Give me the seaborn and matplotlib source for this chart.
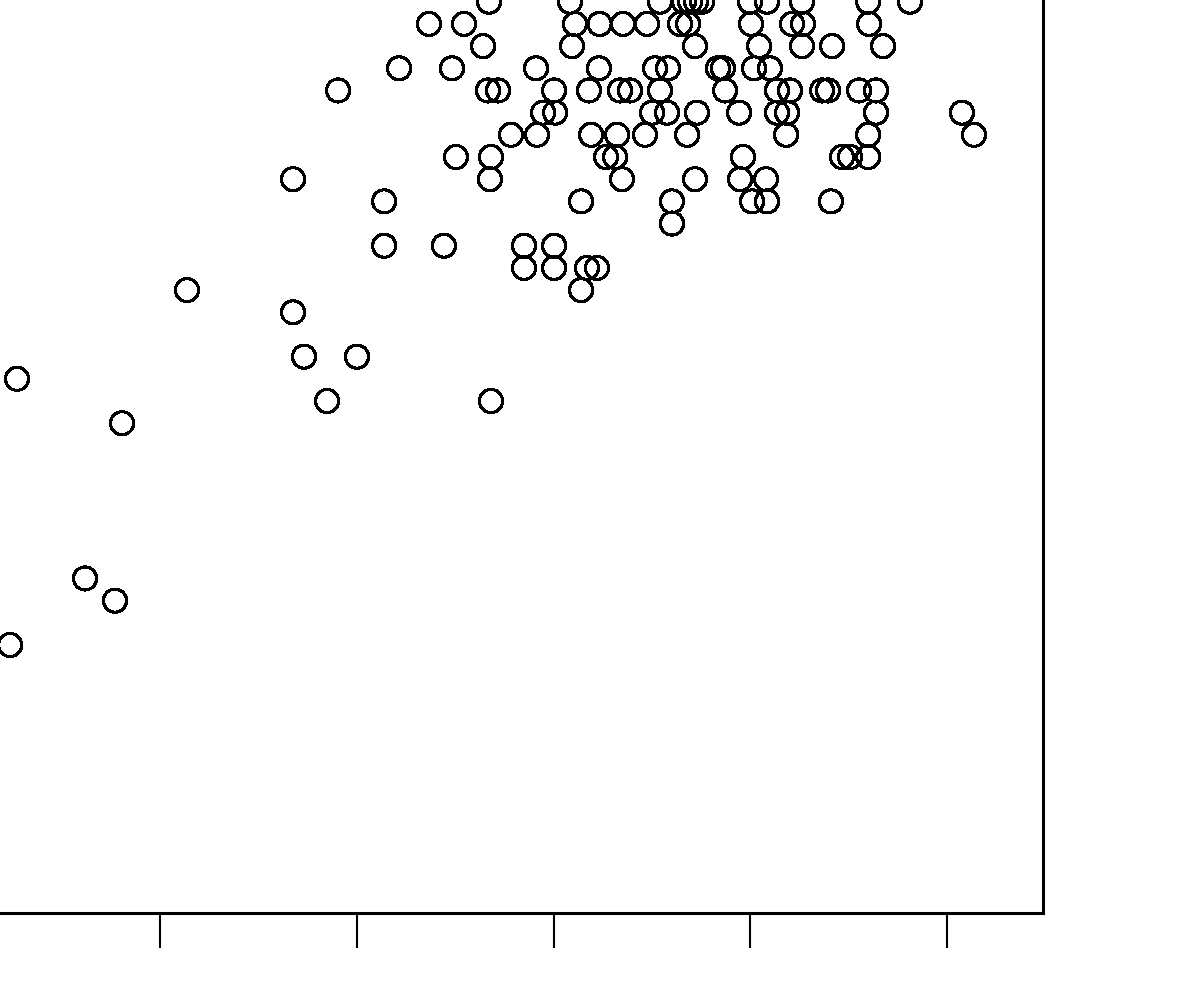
import matplotlib
matplotlib.use("Agg")
import matplotlib.pyplot as plt
import seaborn as sns
import pandas as pd

# values: one list of x readings per y level
y_levels = [41, 40, 39, 38, 37, 36, 35, 34, 33, 32, 31, 30, 29, 28, 27, 25, 24, 23, 22, 15, 14, 12]
x_by_level = [
    [26.72, 30.84, 35.41, 36.63, 36.94, 37.24, 37.55, 39.99, 40.85, 42.63, 45.99, 48.12],
    [23.67, 25.45, 31.09, 32.34, 33.53, 34.75, 36.43, 36.84, 40.04, 42.12, 42.68, 46.04],
    [26.42, 30.94, 37.19, 40.45, 42.63, 44.16, 46.75],
    [22.15, 24.84, 29.11, 32.31, 35.16, 35.82, 38.36, 38.61, 40.19, 41.00],
    [19.05, 26.67, 27.18, 30.03, 31.80, 33.38, 33.89, 35.41, 38.72, 41.36, 42.02, 43.65, 43.95, 45.53, 46.39],
    [29.47, 30.08, 35.01, 35.77, 37.29, 39.43, 41.36, 41.87, 46.39, 50.76],
    [27.84, 29.16, 31.91, 33.23, 34.65, 36.79, 41.82, 45.99, 51.37],
    [25.04, 26.82, 32.67, 33.13, 39.63, 44.66, 45.07, 45.99],
    [16.76, 26.77, 33.48, 37.19, 39.48, 40.80],
    [21.39, 31.40, 36.02, 40.09, 40.85, 44.10],
    [36.02],
    [21.39, 24.43, 28.50, 30.03],
    [28.50, 30.03, 31.70, 32.21],
    [11.37, 31.40],
    [16.76],
    [17.32, 20.01],
    [2.73],
    [18.49, 26.82],
    [8.07],
    [6.19],
    [7.71],
    [2.38],
]
x_ticks = [10, 20, 30, 40, 50]

rows = []
for level, xs in zip(y_levels, x_by_level):
    for xv in xs:
        rows.append({"x": xv, "y": level})
df = pd.DataFrame(rows)

sns.set_style("white")

fig = plt.figure(figsize=(11.96, 9.84), dpi=100)
# the plot region runs past the left and top edges of the picture
ax = fig.add_axes([-0.0307, 0.0722, 0.9028, 1.0162])

sns.scatterplot(
    data=df, x="x", y="y", ax=ax,
    marker="o", s=275, facecolor="none", edgecolor="black",
    linewidth=1.5, antialiased=False, legend=False,
)
ax.collections[0].set_facecolor("none")

ax.set_xlim(0, 54.88)
ax.set_ylim(-0.08, 45)
ax.set_xticks(x_ticks)
ax.set_xticklabels([])
ax.set_yticks([])
ax.set_xlabel("")
ax.set_ylabel("")
ax.tick_params(axis="x", direction="out", length=25, width=1.5, color="black", bottom=True)

for side in ["bottom", "right", "left", "top"]:
    ax.spines[side].set_visible(True)
    ax.spines[side].set_color("black")
    ax.spines[side].set_linewidth(2.2)

fig.savefig("out.png", dpi=100)
